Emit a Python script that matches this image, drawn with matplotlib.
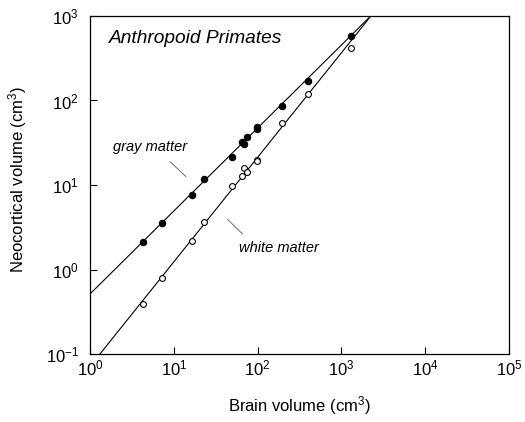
import matplotlib
matplotlib.use("Agg")
import matplotlib.pyplot as plt
import numpy as np
from matplotlib.ticker import FixedLocator, LogFormatterMathtext, NullLocator

plt.rcParams["font.family"] = ["Liberation Sans", "DejaVu Sans"]
plt.rcParams["mathtext.fontset"] = "custom"
plt.rcParams["mathtext.rm"] = "Liberation Sans"
plt.rcParams["mathtext.it"] = "Liberation Sans:italic"
plt.rcParams["mathtext.default"] = "regular"

# brain volume (cm^3) of each species, shared by both series
brain_volume = [4.3, 7.3, 16.5, 22.9, 49.9, 65.7, 68.3, 75.4, 99.2, 97.5, 195, 396, 1320]
gray_matter = [2.13, 3.52, 7.72, 11.7, 21.6, 32.3, 30.6, 36.7, 48.6, 46.4, 85.4, 171, 585]
white_matter = [0.39, 0.80, 2.16, 3.68, 9.8, 12.9, 15.7, 14.2, 19.6, 19.3, 54.2, 118, 422]

# power-law fits  V = coef * brain ** slope
gray_fit = (0.513, 0.982)
white_fit = (0.0713, 1.237)

x_ticks = [1e0, 1e1, 1e2, 1e3, 1e4, 1e5]
y_ticks = [1e-1, 1e0, 1e1, 1e2, 1e3]

fig = plt.figure(figsize=(5.25, 4.22), dpi=100)
ax = fig.add_axes([0.1714, 0.1611, 0.7981, 0.8010])
ax.set_xscale("log")
ax.set_yscale("log")
ax.set_xlim(x_ticks[0], x_ticks[-1])
ax.set_ylim(y_ticks[0], y_ticks[-1])

xs = np.logspace(0, 4, 200)
for coef, slope in (gray_fit, white_fit):
    ax.plot(xs, coef * xs ** slope, color="black", lw=0.8)

ax.plot(brain_volume, white_matter, "o", ms=4.2, mfc="white", mec="black", mew=0.8)
ax.plot(brain_volume, gray_matter, "o", ms=4.6, mfc="black", mec="black", mew=0.8)

ax.xaxis.set_major_locator(FixedLocator(x_ticks))
ax.yaxis.set_major_locator(FixedLocator(y_ticks))
ax.xaxis.set_major_formatter(LogFormatterMathtext())
ax.yaxis.set_major_formatter(LogFormatterMathtext())
ax.xaxis.set_minor_locator(NullLocator())
ax.yaxis.set_minor_locator(NullLocator())
ax.tick_params(direction="in", length=5, width=0.8, labelsize=12,
               top=False, right=False)
ax.tick_params(axis="x", pad=3)
ax.tick_params(axis="y", pad=8)
for spine in ax.spines.values():
    spine.set_linewidth(0.9)

ax.set_xlabel("Brain volume (cm$^3$)", fontsize=12)
ax.set_ylabel("Neocortical volume (cm$^3$)", fontsize=12)
ax.xaxis.set_label_coords(0.499, -0.118)
ax.yaxis.set_label_coords(-0.145, 0.518)

ax.text(0.045, 0.932, "Anthropoid Primates", transform=ax.transAxes,
        fontsize=13.8, style="italic", ha="left", va="center")
ax.text(0.054, 0.613, "gray matter", transform=ax.transAxes,
        fontsize=10.5, style="italic", ha="left", va="center")
ax.text(0.356, 0.3145, "white matter", transform=ax.transAxes,
        fontsize=10.5, style="italic", ha="left", va="center")
ax.plot([0.191, 0.229], [0.569, 0.525], transform=ax.transAxes, color="#555555", lw=0.6)
ax.plot([0.328, 0.364], [0.399, 0.355], transform=ax.transAxes, color="#555555", lw=0.6)

fig.savefig("out.png", dpi=100)
